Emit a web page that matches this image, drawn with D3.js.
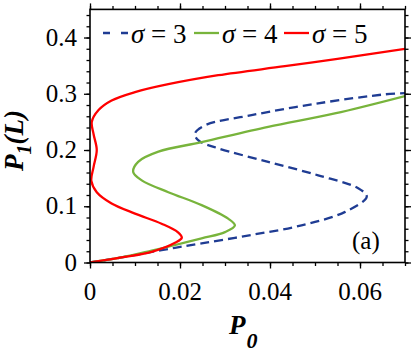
<!DOCTYPE html>
<html>
<head>
<meta charset="utf-8">
<script src="https://cdn.jsdelivr.net/npm/d3@7"></script>
<style>
  body { margin: 0; background: #fff; }
</style>
</head>
<body>
<div id="chart"></div>
<script>
// curves: [P0, P1(L)]
const sigma3 = [[0,0],[0.007,0.009],[0.0159,0.022],[0.0248,0.034],[0.0359,0.049],[0.047,0.066],[0.0567,0.09],
  [0.0615,0.117],[0.0596,0.132],[0.0507,0.155],[0.0396,0.179],[0.0285,0.203],[0.0241,0.217],[0.0233,0.229],
  [0.0256,0.244],[0.0359,0.262],[0.0507,0.283],[0.0656,0.299],[0.07,0.301]];
const sigma4 = [[0,0],[0.007,0.009],[0.0137,0.021],[0.0174,0.028],[0.0248,0.043],[0.030,0.054],[0.0322,0.066],
  [0.0307,0.078],[0.0248,0.102],[0.0174,0.125],[0.0115,0.146],[0.0096,0.161],[0.0107,0.179],[0.0152,0.197],
  [0.0248,0.214],[0.0396,0.241],[0.0544,0.265],[0.07,0.296]];
const sigma5 = [[0,0],[0.007,0.009],[0.0137,0.019],[0.0189,0.035],[0.0204,0.044],[0.0195,0.054],[0.0159,0.069],
  [0.010,0.087],[0.0048,0.105],[0.0015,0.125],[0.0003,0.145],[0.0008,0.17],[0.0015,0.2],[0.0008,0.228],
  [0.0004,0.25],[0.0019,0.271],[0.0048,0.288],[0.010,0.303],[0.0174,0.317],[0.0285,0.333],[0.0433,0.349],
  [0.055,0.362],[0.07,0.380]];

const sigmas = [3, 4, 5];
const xTicks = [0, 0.02, 0.04, 0.06];
const yTicks = [0, 0.1, 0.2, 0.3, 0.4];

const width = 415, height = 352;
const pL = 90, pR = 405, pT = 9.4, pB = 262.5;
const serif = '"Liberation Serif", serif';

const x = d3.scaleLinear().domain([0, 0.07]).range([pL, pR]);
const y = d3.scaleLinear().domain([0, 0.45]).range([pB, pT]);

const svg = d3.select("#chart").append("svg")
    .attr("width", width)
    .attr("height", height);

svg.append("clipPath").attr("id", "clip")
  .append("rect")
    .attr("x", pL).attr("y", pT)
    .attr("width", pR - pL).attr("height", pB - pT);

const series = [
  {name: sigmas[0], data: sigma3, color: "#1f3c93", dash: "9,5"},
  {name: sigmas[1], data: sigma4, color: "#78b43c", dash: null},
  {name: sigmas[2], data: sigma5, color: "#ff0000", dash: null}
];

const line = d3.line()
    .x(function(d) { return x(d[0]); })
    .y(function(d) { return y(d[1]); })
    .curve(d3.curveCatmullRom.alpha(0.5));

svg.append("g").attr("clip-path", "url(#clip)")
  .selectAll("path")
  .data(series)
  .enter().append("path")
    .attr("d", function(d) { return line(d.data); })
    .attr("fill", "none")
    .attr("stroke", function(d) { return d.color; })
    .attr("stroke-width", 2.3)
    .attr("stroke-dasharray", function(d) { return d.dash; });

// ticks (outward, on all four sides)
const xMinor = d3.range(0, 0.0701, 0.005);
const yMinor = d3.range(0, 0.4501, 0.02);

function frameTicks(vals, size) {
    const noDomain = function(g) { g.select(".domain").remove(); };
    svg.append("g")
        .attr("transform", "translate(0," + pB + ")")
        .call(d3.axisBottom(x).tickValues(vals[0]).tickSize(size).tickFormat(""))
        .call(noDomain);
    svg.append("g")
        .attr("transform", "translate(0," + pT + ")")
        .call(d3.axisTop(x).tickValues(vals[0]).tickSize(size).tickFormat(""))
        .call(noDomain);
    svg.append("g")
        .attr("transform", "translate(" + pL + ",0)")
        .call(d3.axisLeft(y).tickValues(vals[1]).tickSize(size).tickFormat(""))
        .call(noDomain);
    svg.append("g")
        .attr("transform", "translate(" + pR + ",0)")
        .call(d3.axisRight(y).tickValues(vals[1]).tickSize(size).tickFormat(""))
        .call(noDomain);
}
frameTicks([xMinor, yMinor], 3.5);
frameTicks([xTicks, yTicks], 6);

svg.selectAll(".tick line").attr("stroke", "#000").attr("stroke-width", 1.3);

// frame
svg.append("rect")
    .attr("x", pL).attr("y", pT)
    .attr("width", pR - pL).attr("height", pB - pT)
    .attr("fill", "none").attr("stroke", "#000").attr("stroke-width", 1.6);

// tick labels
svg.selectAll(".xlab")
  .data(xTicks)
  .enter().append("text")
    .attr("x", function(d) { return x(d); })
    .attr("y", 300)
    .attr("text-anchor", "middle")
    .style("font-family", serif)
    .style("font-size", "25px")
    .text(function(d) { return d === 0 ? "0" : d3.format(".2f")(d); });

svg.selectAll(".ylab")
  .data(yTicks)
  .enter().append("text")
    .attr("x", 77)
    .attr("y", function(d) { return y(d) + 8; })
    .attr("text-anchor", "end")
    .style("font-family", serif)
    .style("font-size", "25px")
    .text(function(d) { return d === 0 ? "0" : d3.format(".1f")(d); });

// axis titles
const xt = svg.append("text")
    .attr("x", 229).attr("y", 334)
    .style("font-family", serif)
    .style("font-size", "27px").style("font-weight", "bold").style("font-style", "italic");
xt.append("tspan").text("P");
xt.append("tspan").attr("dy", 14).attr("dx", 1).style("font-size", "22px").text("0");

const yt = svg.append("text")
    .attr("transform", "translate(23,171) rotate(-90)")
    .style("font-family", serif)
    .style("font-size", "27px").style("font-weight", "bold").style("font-style", "italic");
yt.append("tspan").text("P");
yt.append("tspan").attr("dy", 8).style("font-size", "20px").text("1");
yt.append("tspan").attr("dy", -8).text("(L)");

// panel label
svg.append("text")
    .attr("x", 352).attr("y", 249)
    .style("font-family", serif)
    .style("font-size", "25px")
    .text("(a)");

// legend
const legendX = [103, 194, 284];
const leg = svg.selectAll(".leg")
  .data(series)
  .enter().append("g")
    .attr("transform", function(d, i) { return "translate(" + legendX[i] + ",33)"; });

leg.append("line")
    .attr("x1", 0).attr("x2", 25)
    .attr("stroke", function(d) { return d.color; })
    .attr("stroke-width", 2.3)
    .attr("stroke-dasharray", function(d) { return d.dash ? "7,11" : null; });

const lt = leg.append("text")
    .attr("x", 28).attr("y", 10)
    .style("font-family", serif)
    .style("font-size", "27px");
lt.append("tspan").style("font-style", "italic").text("σ");
lt.append("tspan").text(function(d) { return " = " + d.name; });
</script>
</body>
</html>
